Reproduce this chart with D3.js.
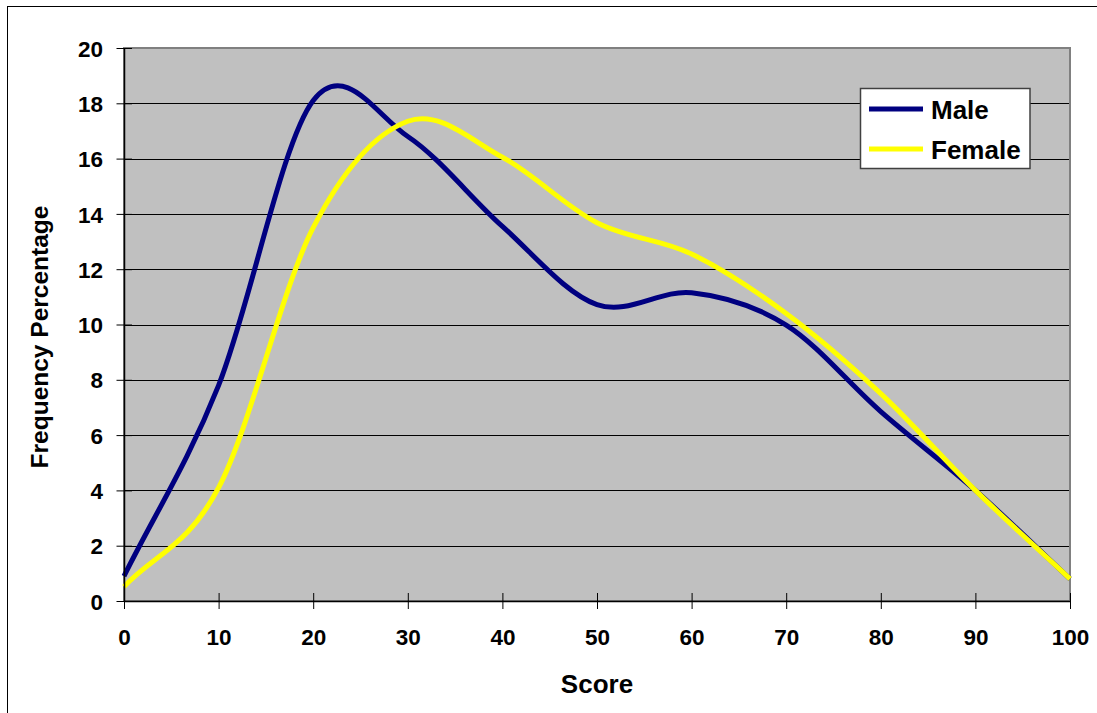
<!DOCTYPE html>
<html>
<head>
<meta charset="utf-8">
<script src="https://cdn.jsdelivr.net/npm/d3@7"></script>
<style>
  html, body { margin: 0; padding: 0; background: #ffffff; }
  svg { display: block; }
  text { font-family: "Liberation Sans", Arial, sans-serif; font-weight: bold; fill: #000; }
</style>
</head>
<body>
<svg id="chart" width="1097" height="713"></svg>
<script>
// Score categories and the frequency percentage for each group
const scores = [0, 10, 20, 30, 40, 50, 60, 70, 80, 90, 100];
const maleValues = [0.9, 7.8, 18.1, 16.8, 13.55, 10.72, 11.15, 9.98, 6.85, 4.0, 0.8];
const femaleValues = [0.52, 4.1, 13.5, 17.35, 16.05, 13.68, 12.55, 10.4, 7.5, 4.0, 0.8];
const xTicks = [0, 10, 20, 30, 40, 50, 60, 70, 80, 90, 100];
const yTicks = [0, 2, 4, 6, 8, 10, 12, 14, 16, 18, 20];
const seriesNames = ["Male", "Female"];
const seriesColors = ["#000080", "#FFFF00"];

const svg = d3.select("#chart");
const plot = { left: 124, right: 1070, top: 48, bottom: 601 };

const x = d3.scaleLinear().domain([0, 100]).range([plot.left, plot.right]);
const y = d3.scaleLinear().domain([0, 20]).range([plot.bottom, plot.top]);

// Smoothed line: Bezier segments with Catmull-Rom tangents inside,
// chord-based tangents at the two ends.
function smoothCurve(context) {
  let pts = [];
  return {
    areaStart() {}, areaEnd() {},
    lineStart() { pts = []; },
    point(px, py) { pts.push([+px, +py]); },
    lineEnd() {
      const n = pts.length;
      if (!n) return;
      context.moveTo(pts[0][0], pts[0][1]);
      for (let i = 0; i < n - 1; i++) {
        const p0 = pts[i], p1 = pts[i + 1];
        const pm = i > 0 ? pts[i - 1] : null;
        const pn = i + 2 < n ? pts[i + 2] : null;
        const c1 = pm
          ? [p0[0] + (p1[0] - pm[0]) / 6, p0[1] + (p1[1] - pm[1]) / 6]
          : [p0[0] + (p1[0] - p0[0]) / 3, p0[1] + (p1[1] - p0[1]) / 3];
        const c2 = pn
          ? [p1[0] - (pn[0] - p0[0]) / 6, p1[1] - (pn[1] - p0[1]) / 6]
          : [p1[0] - (p1[0] - p0[0]) / 3, p1[1] - (p1[1] - p0[1]) / 3];
        context.bezierCurveTo(c1[0], c1[1], c2[0], c2[1], p1[0], p1[1]);
      }
    }
  };
}

// Outer frame
svg.append("rect")
  .attr("x", 7.5).attr("y", 6.5)
  .attr("width", 1100).attr("height", 720)
  .attr("fill", "#ffffff").attr("stroke", "#000").attr("stroke-width", 1);

// Plot background
svg.append("rect")
  .attr("x", plot.left).attr("y", plot.top)
  .attr("width", plot.right - plot.left).attr("height", plot.bottom - plot.top)
  .attr("fill", "#C0C0C0");

// Horizontal gridlines
svg.append("g")
  .selectAll("line")
  .data(yTicks.filter(v => v > 0 && v < 20))
  .join("line")
  .attr("x1", plot.left).attr("x2", plot.right)
  .attr("y1", d => Math.round(y(d)) + 0.5).attr("y2", d => Math.round(y(d)) + 0.5)
  .attr("stroke", "#000").attr("stroke-width", 1);

// Plot border
svg.append("rect")
  .attr("x", plot.left).attr("y", plot.top)
  .attr("width", plot.right - plot.left).attr("height", plot.bottom - plot.top)
  .attr("fill", "none").attr("stroke", "#808080").attr("stroke-width", 2);

// Series lines
const series = [maleValues, femaleValues];
const line = d3.line()
  .x((d, i) => x(scores[i]))
  .y(d => y(d))
  .curve(smoothCurve);

svg.append("g")
  .selectAll("path")
  .data(series)
  .join("path")
  .attr("d", d => line(d))
  .attr("fill", "none")
  .attr("stroke", (d, i) => seriesColors[i])
  .attr("stroke-width", 5)
  .attr("stroke-linejoin", "round");

// Axes (ticks cross the axis line)
const yAxis = d3.axisLeft(y).tickValues(yTicks).tickSize(0).tickFormat(d3.format("d"));
const xAxis = d3.axisBottom(x).tickValues(xTicks).tickSize(0).tickFormat(d3.format("d"));

const gy = svg.append("g").attr("transform", `translate(${plot.left},0)`).call(yAxis);
gy.select(".domain").attr("stroke", "#000").attr("stroke-width", 1.5);
gy.selectAll(".tick line")
  .attr("x1", -7.5).attr("x2", 8)
  .attr("stroke", "#000").attr("stroke-width", 1);
gy.selectAll(".tick text")
  .attr("x", -21).attr("dy", "0.36em")
  .style("font-size", "22.5px")
  .style("font-family", "'Liberation Sans', Arial, sans-serif")
  .style("font-weight", "bold")
  .attr("fill", "#000");

const gx = svg.append("g").attr("transform", `translate(0,${plot.bottom})`).call(xAxis);
gx.select(".domain").attr("stroke", "#000").attr("stroke-width", 1.5);
gx.selectAll(".tick line")
  .attr("y1", -8).attr("y2", 8)
  .attr("stroke", "#000").attr("stroke-width", 1);
gx.selectAll(".tick text")
  .attr("y", 44).attr("dy", 0)
  .style("font-size", "22.5px")
  .style("font-family", "'Liberation Sans', Arial, sans-serif")
  .style("font-weight", "bold")
  .attr("fill", "#000");

// Axis titles
svg.append("text")
  .attr("x", (plot.left + plot.right) / 2).attr("y", 693)
  .attr("text-anchor", "middle")
  .style("font-size", "26px")
  .text("Score");

svg.append("text")
  .attr("transform", "translate(48,337) rotate(-90)")
  .attr("text-anchor", "middle")
  .style("font-size", "24.5px")
  .text("Frequency Percentage");

// Legend
const legend = svg.append("g");
legend.append("rect")
  .attr("x", 860.5).attr("y", 88.5)
  .attr("width", 169.5).attr("height", 80)
  .attr("fill", "#ffffff").attr("stroke", "#404040").attr("stroke-width", 1.5);

const legendRows = legend.selectAll("g.row")
  .data(seriesNames)
  .join("g")
  .attr("class", "row")
  .attr("transform", (d, i) => `translate(0,${109 + i * 40})`);

legendRows.append("line")
  .attr("x1", 869).attr("x2", 923)
  .attr("y1", 0).attr("y2", 0)
  .attr("stroke", (d, i) => seriesColors[i])
  .attr("stroke-width", 5);

legendRows.append("text")
  .attr("x", 931).attr("y", 10)
  .style("font-size", "26px")
  .text(d => d);
</script>
</body>
</html>
